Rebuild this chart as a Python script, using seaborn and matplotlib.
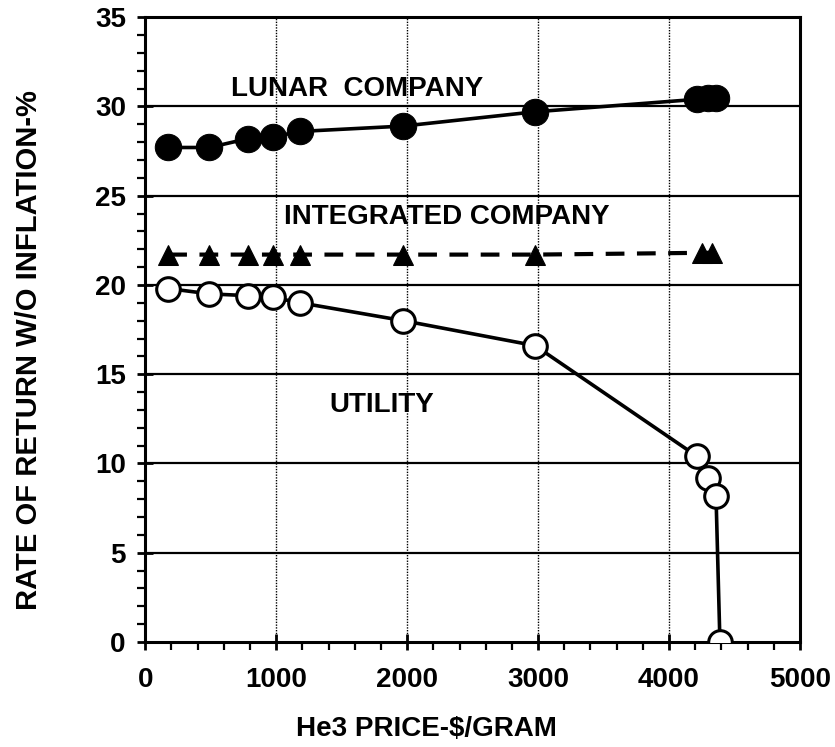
import numpy as np
import pandas as pd
import matplotlib
matplotlib.use("Agg")
import matplotlib.pyplot as plt
import seaborn as sns
from matplotlib.ticker import MultipleLocator

# data
lunar_x = [175, 490, 786, 977, 1183, 1970, 2977, 4214, 4298, 4359]
lunar_y = [27.7, 27.7, 28.2, 28.3, 28.6, 28.9, 29.7, 30.4, 30.5, 30.5]

integ_x = [175, 490, 786, 977, 1183, 1970, 2977, 4250, 4330]
integ_y = [21.7, 21.7, 21.7, 21.7, 21.7, 21.7, 21.7, 21.8, 21.8]

util_x = [175, 490, 786, 977, 1183, 1970, 2977, 4214, 4298, 4359, 4389]
util_y = [19.8, 19.5, 19.4, 19.3, 19.0, 18.0, 16.6, 10.4, 9.2, 8.2, 0.0]

sns.set_style("white")
plt.rcParams['font.family'] = ['Liberation Sans', 'DejaVu Sans']
plt.rcParams['font.weight'] = 'bold'
plt.rcParams['text.color'] = 'black'
plt.rcParams['axes.labelcolor'] = 'black'
plt.rcParams['xtick.color'] = 'black'
plt.rcParams['ytick.color'] = 'black'

fig = plt.figure(figsize=(8.35, 7.47), dpi=100)
ax = fig.add_axes([0.174, 0.1406, 0.784, 0.8364])

# grid: solid horizontal, dotted vertical
for yv in range(5, 35, 5):
    ax.axhline(yv, color='black', lw=1.6, zorder=1)
for xv in range(1000, 5000, 1000):
    ax.axvline(xv, color='black', lw=1.0, ls=(0, (1, 1)), zorder=1)

sns.lineplot(x=lunar_x, y=lunar_y, ax=ax, color='black', lw=2.6,
             marker='o', markersize=19, markerfacecolor='black',
             markeredgecolor='black', zorder=3)
sns.lineplot(x=integ_x, y=integ_y, ax=ax, color='black', lw=3.0,
             linestyle=(0, (4.5, 3)), marker='^', markersize=15,
             markerfacecolor='black', markeredgecolor='black', zorder=3)
sns.lineplot(x=util_x, y=util_y, ax=ax, color='black', lw=2.6,
             marker='o', markersize=17, markerfacecolor='white',
             markeredgecolor='black', markeredgewidth=2.2, zorder=4)

ax.set_xlim(0, 5000)
ax.set_ylim(0, 35)
ax.xaxis.set_major_locator(MultipleLocator(1000))
ax.xaxis.set_minor_locator(MultipleLocator(200))
ax.yaxis.set_major_locator(MultipleLocator(5))
ax.yaxis.set_minor_locator(MultipleLocator(1))
ax.tick_params(which='major', direction='inout', length=12, width=2, labelsize=20)
ax.tick_params(axis='x', which='major', pad=12)
ax.tick_params(axis='y', which='major', pad=8)
ax.tick_params(which='minor', direction='out', length=6, width=1.6)
ax.tick_params(axis='x', which='both', bottom=True)
ax.tick_params(axis='y', which='both', left=True)
for s in ax.spines.values():
    s.set_linewidth(2.2)
    s.set_color('black')

ax.text(1618, 31.0, 'LUNAR  COMPANY', fontsize=20, fontweight='bold', ha='center', va='center')
ax.text(2305, 23.8, 'INTEGRATED COMPANY', fontsize=20, fontweight='bold', ha='center', va='center')
ax.text(1809, 13.3, 'UTILITY', fontsize=20, fontweight='bold', ha='center', va='center')

ax.set_xlabel('He3 PRICE-$/GRAM', fontsize=20, fontweight='bold')
ax.set_ylabel('RATE OF RETURN W/O INFLATION-%', fontsize=21, fontweight='bold')
ax.xaxis.set_label_coords(0.43, -0.118)
ax.yaxis.set_label_coords(-0.157, 0.467)

fig.savefig('out.png', dpi=100)
